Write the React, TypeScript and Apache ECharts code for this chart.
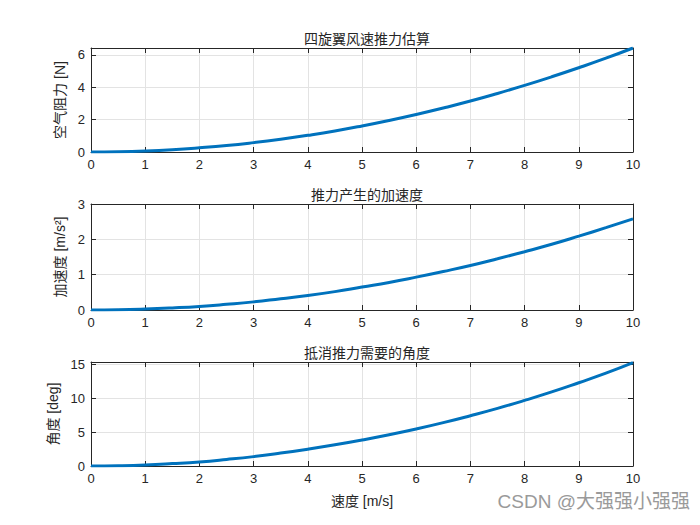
import React, { useEffect, useRef } from "react";
import * as echarts from "echarts";

const speeds = [0, 0.5, 1, 1.5, 2, 2.5, 3, 3.5, 4, 4.5, 5, 5.5, 6, 6.5, 7, 7.5, 8, 8.5, 9, 9.5, 10];
const dragForce = [0, 0.016, 0.064, 0.145, 0.26, 0.40, 0.58, 0.79, 1.03, 1.30, 1.61, 1.95, 2.32, 2.72, 3.15, 3.62, 4.12, 4.65, 5.21, 5.80, 6.43];
const accel = [0, 0.006, 0.026, 0.058, 0.10, 0.16, 0.23, 0.32, 0.41, 0.52, 0.65, 0.78, 0.93, 1.09, 1.26, 1.45, 1.65, 1.86, 2.09, 2.33, 2.58];
const angle = [0, 0.04, 0.15, 0.35, 0.6, 0.96, 1.38, 1.9, 2.48, 3.12, 3.83, 4.6, 5.45, 6.38, 7.4, 8.48, 9.65, 10.9, 12.25, 13.65, 15.2];

const titles = ["四旋翼风速推力估算", "推力产生的加速度", "抵消推力需要的角度"];
const yNames = ["空气阻力 [N]", "加速度 [m/s²]", "角度 [deg]"];
const xName = "速度 [m/s]";
const yMax = [6.43, 3, 15.3];
const yInterval = [2, 1, 5];
const watermark = "CSDN @大强强小强强";

const AXIS = "#262626";
const GRIDC = "#e3e3e3";
const LINE = "#0072BD";
const FONT = "'Liberation Sans', Arial, 'Noto Sans CJK SC', sans-serif";

export default function App() {
  const ref = useRef<HTMLDivElement>(null);
  useEffect(() => {
    if (!ref.current) return;
    const chart = echarts.init(ref.current, null, { renderer: "svg" });
    const grids = [
      { left: 91, right: 67, top: 48, height: 104 },
      { left: 91, right: 67, top: 204, height: 106 },
      { left: 91, right: 67, top: 362, height: 104 },
    ];
    const xAxis: any[] = [];
    const yAxis: any[] = [];
    const series: any[] = [];
    const seriesData = [dragForce, accel, angle];
    for (let i = 0; i < 3; i++) {
      xAxis.push({
        type: "value", gridIndex: i, min: 0, max: 10, interval: 1,
        position: "bottom",
        name: i === 2 ? xName : "", nameLocation: "middle", nameGap: 28,
        nameTextStyle: { color: AXIS, fontSize: 14, fontFamily: FONT },
        axisLine: { show: true, onZero: false, lineStyle: { color: AXIS, width: 1 } },
        axisTick: { show: true, inside: true, length: 5, lineStyle: { color: AXIS } },
        axisLabel: { color: AXIS, fontSize: 13, fontFamily: FONT, margin: 6 },
        splitLine: { show: true, lineStyle: { color: GRIDC, width: 1 } },
      });
      xAxis.push({
        type: "value", gridIndex: i, min: 0, max: 10, interval: 1,
        position: "top",
        axisLine: { show: true, onZero: false, lineStyle: { color: AXIS, width: 1 } },
        axisTick: { show: true, inside: true, length: 5, lineStyle: { color: AXIS } },
        axisLabel: { show: false },
        splitLine: { show: false },
      });
      yAxis.push({
        type: "value", gridIndex: i, min: 0, max: yMax[i], interval: yInterval[i],
        position: "left",
        name: yNames[i], nameLocation: "middle", nameGap: i === 2 ? 25 : 20,
        nameTextStyle: { color: AXIS, fontSize: 14, fontFamily: FONT },
        axisLine: { show: true, onZero: false, lineStyle: { color: AXIS, width: 1 } },
        axisTick: { show: true, inside: true, length: 5, lineStyle: { color: AXIS } },
        axisLabel: { color: AXIS, fontSize: 13, fontFamily: FONT, margin: 6, showMaxLabel: i === 1 },
        splitLine: { show: true, lineStyle: { color: GRIDC, width: 1 } },
      });
      yAxis.push({
        type: "value", gridIndex: i, min: 0, max: yMax[i], interval: yInterval[i],
        position: "right",
        axisLine: { show: true, onZero: false, lineStyle: { color: AXIS, width: 1 } },
        axisTick: { show: true, inside: true, length: 5, lineStyle: { color: AXIS } },
        axisLabel: { show: false },
        splitLine: { show: false },
      });
      series.push({
        type: "line", xAxisIndex: i * 2, yAxisIndex: i * 2,
        data: speeds.map((s, k) => [s, seriesData[i][k]]),
        smooth: true, showSymbol: false, symbol: "none",
        lineStyle: { color: LINE, width: 3 },
        z: 3,
      });
    }
    chart.setOption({
      animation: false,
      backgroundColor: "#ffffff",
      title: titles.map((t, i) => ({
        text: t, left: 362, textAlign: "center", top: grids[i].top - 22,
        textStyle: { color: AXIS, fontSize: 14, fontWeight: "normal", fontFamily: "'Noto Sans CJK SC', sans-serif" },
      })),
      grid: grids,
      xAxis, yAxis, series,
      graphic: [
        {
          type: "text", right: 10, top: 492,
          style: { text: watermark, fill: "#9a9a9a", fontSize: 19, fontFamily: "'Liberation Sans', 'Noto Sans CJK SC', sans-serif" },
        },
      ],
    });
    return () => chart.dispose();
  }, []);
  return <div ref={ref} style={{ position: "fixed", left: 0, top: 0, width: 700, height: 525 }} />;
}
